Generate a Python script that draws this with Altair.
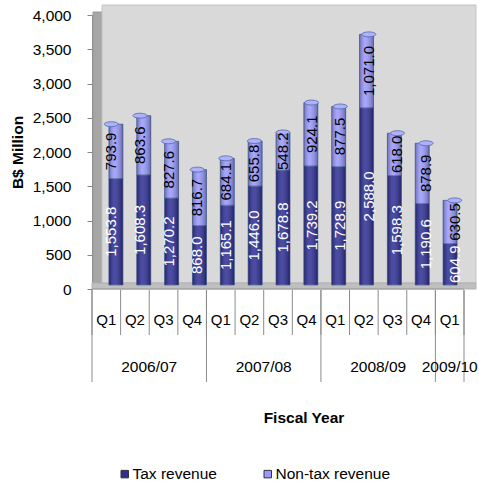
import altair as alt
import pandas as pd

# Quarterly government revenue, B$ million
quarters = ["Q1", "Q2", "Q3", "Q4", "Q1", "Q2", "Q3", "Q4", "Q1", "Q2", "Q3", "Q4", "Q1"]
fiscal_years = ["2006/07"] * 4 + ["2007/08"] * 4 + ["2008/09"] * 4 + ["2009/10"]
tax_revenue = [1553.8, 1608.3, 1270.2, 868.0, 1165.1, 1446.0, 1678.8, 1739.2,
               1728.9, 2588.0, 1598.3, 1190.6, 604.9]
non_tax_revenue = [793.9, 863.6, 827.6, 816.7, 684.1, 655.8, 548.2, 924.1,
                   877.5, 1071.0, 618.0, 878.9, 630.5]
series_names = ["Tax revenue", "Non-tax revenue"]
series_colors = ["#2e2e96", "#9999ff"]
y_ticks = [0, 500, 1000, 1500, 2000, 2500, 3000, 3500, 4000]

FONT = "Liberation Sans"
W, H = 372, 274
n = len(quarters)

df = pd.DataFrame({
    "slot": [i + 0.5 for i in range(n)],
    "quarter": quarters,
    "year": fiscal_years,
    "Tax revenue": tax_revenue,
    "Non-tax revenue": non_tax_revenue,
})

# front-edge scales (axes) and slightly shifted ones for the bars standing inside the box
x_front = alt.Scale(domain=[0, n], range=[0, W], nice=False, zero=False)
x_depth = alt.Scale(domain=[0, n], range=[5, W + 5], nice=False, zero=False)
y_front = alt.Scale(domain=[0, 4000], range=[H, 0], nice=False)
y_depth = alt.Scale(domain=[0, 4000], range=[H - 4, -4], nice=False)

one = pd.DataFrame({"k": [0]})


def panel(x, x2, y, y2, fill, stroke="#bdbdbd"):
    return alt.Chart(one).mark_rect(fill=fill, stroke=stroke, strokeWidth=1).encode(
        x=alt.value(x), x2=alt.value(x2), y=alt.value(y), y2=alt.value(y2))


side_wall = panel(1, 10, -3, 271, "#a6a6a6", "#999999")
back_wall = panel(10, 384, -10, 268, "#d9d9d9", "#c4c4c4")
floor = panel(0, 384, 268, 274, "#bfbfbf", "#b0b0b0")

base = alt.Chart(df)
stacked = (
    base.transform_fold(series_names, as_=["series", "value"])
    .transform_calculate(rank="datum.series === 'Tax revenue' ? 0 : 1")
    .transform_stack(stack="value", groupby=["slot"], as_=["y0", "y1"],
                     sort=[alt.SortField("rank", order="ascending")])
    .transform_calculate(mid="(datum.y0 + datum.y1) / 2")
)

bx = alt.X("slot:Q", scale=x_depth, axis=None)

bars = stacked.mark_bar(size=14, stroke="#4a6a9e", strokeWidth=0.8).encode(
    x=bx,
    y=alt.Y("y0:Q", scale=y_depth, axis=None),
    y2="y1:Q",
    color=alt.Color(
        "series:N",
        scale=alt.Scale(domain=series_names, range=series_colors),
        legend=alt.Legend(
            orient="none", legendX=25, legendY=451, direction="horizontal",
            title=None, symbolType="square", symbolSize=56,
            symbolStrokeColor="#333333", symbolStrokeWidth=1,
            labelFont=FONT, labelFontSize=15.5, labelColor="#000000",
            labelOffset=0, columnPadding=43,
        ),
    ),
)

# cylinder shading
shade = stacked.mark_bar(
    size=14,
    color=alt.LinearGradient(
        gradient="linear", x1=0, x2=1, y1=0, y2=0,
        stops=[
            alt.GradientStop(offset=0, color="rgba(0,0,0,0.30)"),
            alt.GradientStop(offset=0.4, color="rgba(255,255,255,0.14)"),
            alt.GradientStop(offset=1, color="rgba(0,0,0,0.32)"),
        ],
    ),
).encode(x=bx, y=alt.Y("y0:Q", scale=y_depth, axis=None), y2="y1:Q")

ELLIPSE = "M-1,0A1,0.35,0,1,1,1,0A1,0.35,0,1,1,-1,0Z"
caps = (
    base.transform_calculate(total="datum['Tax revenue'] + datum['Non-tax revenue']")
    .mark_point(shape=ELLIPSE, size=196, filled=True, fill="#b0b0ff",
                stroke="#4a6a9e", strokeWidth=0.8, opacity=1)
    .encode(x=bx, y=alt.Y("total:Q", scale=y_depth, axis=None))
)

labels = stacked.mark_text(angle=270, font=FONT, fontSize=15, align="center",
                           baseline="middle").encode(
    x=bx,
    y=alt.Y("mid:Q", scale=y_depth, axis=None),
    text=alt.Text("value:Q", format=",.1f"),
    color=alt.condition("datum.series === 'Tax revenue'",
                        alt.value("#ffffff"), alt.value("#000000")),
)

y_axis = alt.Chart(pd.DataFrame({"v": y_ticks})).mark_point(opacity=0).encode(
    x=alt.value(0),
    y=alt.Y("v:Q", scale=y_front, axis=alt.Axis(
        values=y_ticks, format=",.0f", grid=False,
        title="B$ Million", titleFont=FONT, titleFontSize=15.5, titleFontWeight="bold",
        titleColor="#000000", titleAngle=270, titleX=-74.5, titleY=H / 2,
        titleAlign="center", titleBaseline="middle",
        labelFont=FONT, labelFontSize=15.5, labelColor="#000000", labelPadding=16,
        tickSize=5, tickColor="#868686", domainColor="#868686",
    )),
)

front_edge = alt.Chart(one).mark_rule(color="#9a9a9a").encode(
    x=alt.value(0), x2=alt.value(W), y=alt.value(H))

edges = pd.DataFrame({
    "b": list(range(n + 1)),
    "year_edge": [i == 0 or i == n or fiscal_years[i] != fiscal_years[i - 1]
                  for i in range(n + 1)],
})
sep_short = alt.Chart(edges).mark_rule(color="#8c8c8c").encode(
    x=alt.X("b:Q", scale=x_front, axis=None), y=alt.value(H + 1), y2=alt.value(H + 46))
sep_long = alt.Chart(edges).transform_filter("datum.year_edge").mark_rule(
    color="#8c8c8c").encode(
    x=alt.X("b:Q", scale=x_front, axis=None), y=alt.value(H + 1), y2=alt.value(H + 93))

q_labels = base.mark_text(font=FONT, fontSize=15, baseline="middle",
                          color="#000000").encode(
    x=alt.X("slot:Q", scale=x_front, axis=None), y=alt.value(H + 31), text="quarter:N")

year_labels = base.mark_text(font=FONT, fontSize=15.5, baseline="middle",
                             color="#000000").encode(
    x=alt.X("mean(slot):Q", scale=x_front, axis=None), y=alt.value(H + 78), text="year:N")

x_title = alt.Chart(one).mark_text(
    text="Fiscal Year", font=FONT, fontSize=15.5, fontWeight="bold",
    baseline="middle", color="#000000").encode(x=alt.value(212), y=alt.value(H + 129))

chart = (
    alt.layer(side_wall, back_wall, floor, bars, shade, caps, labels, y_axis,
              front_edge, sep_short, sep_long, q_labels, year_labels, x_title)
    .resolve_scale(x="independent", y="independent")
    .properties(
        width=W, height=H,
        autosize=alt.AutoSizeParams(type="none"),
        padding={"left": 92, "top": 15, "right": 15, "bottom": 198},
        background="#ffffff",
    )
    .configure_view(strokeWidth=0)
)

chart.save("out.html", embed_options={"renderer": "svg", "actions": False})
